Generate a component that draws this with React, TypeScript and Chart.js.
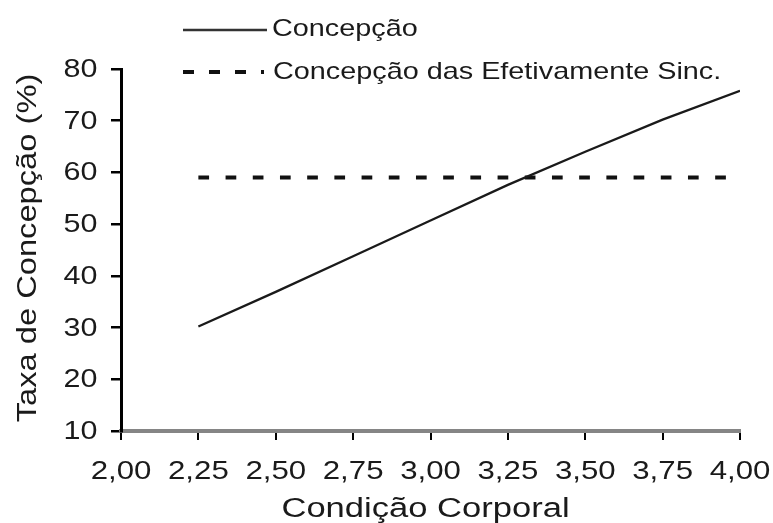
import React, { useEffect, useRef } from "react";
import { Chart, registerables } from "chart.js";

Chart.register(...registerables);

const xValues = [2.25, 2.5, 2.75, 3.0, 3.25, 3.5, 3.75, 4.0];
const concepcao = [30.2, 36.9, 43.8, 50.7, 57.6, 64.0, 70.2, 75.8];
const sincronizadas = [59, 59, 59, 59, 59, 59, 59, 59];
const legendLabels = ["Concepção", "Concepção das Efetivamente Sinc."];
const xTitle = "Condição Corporal";
const yTitle = "Taxa de Concepção (%)";

const FONT = "'Liberation Sans', Arial, sans-serif";
const TEXT = "#1a1a1a";

function drawText(
  ctx: CanvasRenderingContext2D,
  text: string,
  x: number,
  y: number,
  size: number,
  sx: number,
  align: CanvasTextAlign,
  rotate = 0
) {
  ctx.save();
  ctx.translate(x, y);
  if (rotate) ctx.rotate(rotate);
  ctx.scale(sx, 1);
  ctx.font = `${size}px ${FONT}`;
  ctx.fillStyle = TEXT;
  ctx.textAlign = align;
  ctx.textBaseline = "alphabetic";
  ctx.fillText(text, 0, 0);
  ctx.restore();
}

const fmt = (v: number) => v.toFixed(2).replace(".", ",");

const textPlugin = {
  id: "wideText",
  afterDraw(chart: any) {
    const ctx = chart.ctx as CanvasRenderingContext2D;
    const xs = chart.scales.x;
    const ys = chart.scales.y;
    const area = chart.chartArea;

    // tick labels
    xs.ticks.forEach((t: any) => {
      const px = xs.getPixelForValue(t.value);
      drawText(ctx, fmt(t.value), px, xs.top + 48, 26, 1.2, "center");
    });
    ys.ticks.forEach((t: any) => {
      const py = ys.getPixelForValue(t.value);
      drawText(ctx, String(t.value), ys.right - 23.5, py + 8, 25, 1.22, "right");
    });

    // axis titles
    drawText(ctx, xTitle, 425.5, xs.top + 86, 27, 1.28, "center");
    drawText(ctx, yTitle, 35.5, (area.top + area.bottom) / 2 - 2, 27, 1.21, "center", -Math.PI / 2);

    // legend
    ctx.save();
    ctx.strokeStyle = "#333";
    ctx.lineWidth = 2.5;
    ctx.beginPath();
    ctx.moveTo(183, 30);
    ctx.lineTo(267, 30);
    ctx.stroke();
    ctx.strokeStyle = "#111";
    ctx.lineWidth = 4;
    ctx.setLineDash([11, 15]);
    ctx.beginPath();
    ctx.moveTo(183, 72);
    ctx.lineTo(264, 72);
    ctx.stroke();
    ctx.restore();
    drawText(ctx, legendLabels[0], 272, 36, 24, 1.2, "left");
    drawText(ctx, legendLabels[1], 273, 79, 24, 1.2, "left");
  },
};

export default function App() {
  const ref = useRef<HTMLCanvasElement>(null);
  useEffect(() => {
    if (!ref.current) return;
    const chart = new Chart(ref.current, {
      type: "line",
      data: {
        datasets: [
          {
            label: legendLabels[0],
            data: xValues.map((x, i) => ({ x, y: concepcao[i] })),
            borderColor: "#1a1a1a",
            borderWidth: 2.3,
            pointRadius: 0,
            tension: 0,
            fill: false,
          },
          {
            label: legendLabels[1],
            data: xValues.map((x, i) => ({ x, y: sincronizadas[i] })),
            borderColor: "#111",
            borderWidth: 4,
            borderDash: [10.7, 16.5],
            borderCapStyle: "butt",
            pointRadius: 0,
            fill: false,
          },
        ],
      },
      options: {
        responsive: false,
        animation: false,
        layout: { padding: { top: 69, right: 33, left: 0, bottom: 0 } },
        plugins: { legend: { display: false }, tooltip: { enabled: false } },
        scales: {
          x: {
            type: "linear",
            min: 2,
            max: 4,
            afterFit: (s: any) => {
              s.height = 92;
            },
            ticks: { stepSize: 0.25, autoSkip: false, display: false },
            grid: {
              drawOnChartArea: false,
              drawTicks: true,
              tickLength: 9,
              color: "#000",
              lineWidth: 2,
            },
            border: { color: "#858585", width: 4 },
            title: { display: false },
          },
          y: {
            min: 10,
            max: 80,
            afterFit: (s: any) => {
              s.width = 121;
            },
            ticks: { stepSize: 10, display: false },
            grid: {
              drawOnChartArea: false,
              drawTicks: true,
              tickLength: 10,
              color: "#000",
              lineWidth: 2.5,
            },
            border: { color: "#000", width: 3 },
            title: { display: false },
          },
        },
      },
      plugins: [textPlugin],
    } as any);
    return () => chart.destroy();
  }, []);
  return (
    <div style={{ position: "absolute", left: 0, top: 0, width: 773, height: 523, background: "#fff" }}>
      <canvas ref={ref} width={773} height={523} />
    </div>
  );
}
